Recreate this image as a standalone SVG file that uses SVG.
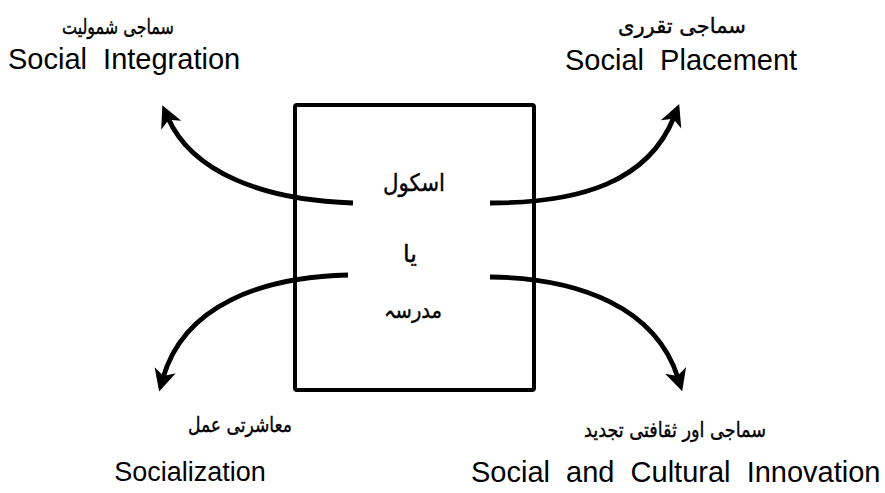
<svg xmlns="http://www.w3.org/2000/svg" width="885" height="493" viewBox="0 0 885 493">
<style>
.en{font-family:"Liberation Sans",Arial,sans-serif;font-size:29px;fill:#000;white-space:pre}
.ur{font-family:"DejaVu Sans",sans-serif;fill:#000;direction:rtl;stroke:#000;stroke-width:0.4}
.conn{fill:none;stroke:#000;stroke-width:4.8;stroke-linecap:butt}
</style>
<defs>
<marker id="ah" markerUnits="userSpaceOnUse" markerWidth="22" markerHeight="24" viewBox="0 -12 22 24" refX="8" refY="0" orient="auto">
<path d="M22,0 L0,-11 L6,0 L0,11 Z" fill="#000"/>
</marker>
</defs>
<rect width="885" height="493" fill="#fff"/>
<g id="school">
<rect x="295" y="105" width="239" height="285" rx="2" fill="#fff" stroke="#000" stroke-width="4"/>
<text class="ur" x="414" y="191" font-size="24" text-anchor="middle" textLength="62" lengthAdjust="spacingAndGlyphs">اسکول</text>
<text class="ur" x="410" y="262" font-size="24" text-anchor="middle">یا</text>
<text class="ur" x="413" y="318" font-size="22" text-anchor="middle" textLength="58" lengthAdjust="spacingAndGlyphs">مدرسہ</text>
</g>
<g id="connectors">
<path class="conn" d="M353,203 C262,200 192,172 168,118" marker-end="url(#ah)"/>
<path class="conn" d="M348,275 C262,277 184,305 163,378" marker-end="url(#ah)"/>
<path class="conn" d="M490,203 C580,203 648,182 674,117" marker-end="url(#ah)"/>
<path class="conn" d="M490,277 C580,278 656,308 678,378" marker-end="url(#ah)"/>
</g>
<g id="integration">
<text class="ur" x="118" y="34" font-size="21" text-anchor="middle" textLength="112" lengthAdjust="spacingAndGlyphs">سماجی شمولیت</text>
<text class="en" x="8" y="69">Social  Integration</text>
</g>
<g id="placement">
<text class="ur" x="682" y="33" font-size="21" text-anchor="middle">سماجی تقرری</text>
<text class="en" x="565" y="70">Social  Placement</text>
</g>
<g id="socialization">
<text class="ur" x="240" y="432" font-size="21" text-anchor="middle" textLength="104" lengthAdjust="spacingAndGlyphs">معاشرتی عمل</text>
<text class="en" x="190" y="481" text-anchor="middle" style="font-size:27px">Socialization</text>
</g>
<g id="innovation">
<text class="ur" x="675" y="437" font-size="21" text-anchor="middle" textLength="182" lengthAdjust="spacingAndGlyphs">سماجی اور ثقافتی تجدید</text>
<text class="en" x="471" y="482">Social  and  Cultural  Innovation</text>
</g>
</svg>
